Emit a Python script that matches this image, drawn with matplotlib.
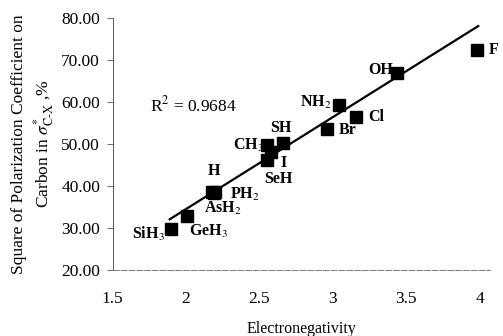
import numpy as np
import matplotlib
matplotlib.use("Agg")
import matplotlib.pyplot as plt

plt.rcParams['font.family'] = ['Liberation Serif', 'DejaVu Serif']
plt.rcParams['mathtext.fontset'] = 'stix'

# Data
labels = ["SiH$_3$", "GeH$_3$", "AsH$_2$", "H", "PH$_2$", "SeH", "I", "CH$_3$",
          "SH", "Br", "NH$_2$", "Cl", "OH", "F"]
electroneg = [1.90, 2.01, 2.18, 2.20, 2.19, 2.55, 2.58, 2.55, 2.66, 2.96, 3.04, 3.16, 3.44, 3.98]
polarization = [29.8, 32.8, 38.5, 38.6, 38.4, 46.2, 48.0, 49.8, 50.3, 53.6, 59.3, 56.4, 66.8, 72.4]
trend_slope = 21.9
trend_intercept = -9.3
trend_x = [1.89, 3.99]
r2_text = "R$^2$ = 0.9684"
yticks = [20, 30, 40, 50, 60, 70, 80]
xticks = [1.5, 2, 2.5, 3, 3.5, 4]

# label offsets in pixels (dx, dy) and alignment
offsets = {
    "SiH$_3$": (-6, -5, 'right'),
    "GeH$_3$": (2, -15, 'left'),
    "AsH$_2$": (-8, -16, 'left'),
    "H": (-1, 21, 'center'),
    "PH$_2$": (16, -2, 'left'),
    "SeH": (-3, -19, 'left'),
    "I": (12, -11, 'center'),
    "CH$_3$": (-3, -1, 'right'),
    "SH": (-2, 15, 'center'),
    "Br": (12, -1, 'left'),
    "NH$_2$": (-7, 2, 'right'),
    "Cl": (12, 0, 'left'),
    "OH": (-4, 3, 'right'),
    "F": (12, 0, 'left'),
}

fig = plt.figure(figsize=(5.03, 3.36), dpi=100)
ax = fig.add_axes([112.5/503, 66/336, 377.5/503, 252/336])

x = np.array(electroneg)
y = np.array(polarization)
xl = np.array(trend_x)
ax.plot(xl, trend_slope * xl + trend_intercept, color='black', lw=1.6, zorder=2)
ax.plot(x, y, 's', color='black', ms=8, zorder=3)

for lab, xi, yi in zip(labels, electroneg, polarization):
    dx, dy, ha = offsets[lab]
    ax.annotate(lab, (xi, yi), xytext=(dx, dy), textcoords='offset pixels',
                ha=ha, va='center', fontsize=11.5, fontweight='bold')

ax.text(1.755, 59.3, r2_text, fontsize=12.5, va='center', ha='left')

ax.set_xlim(1.5, 4.07)
ax.set_ylim(20, 80)
ax.set_xticks(xticks)
ax.set_xticklabels(["1.5", "2", "2.5", "3", "3.5", "4"])
ax.set_yticks(yticks)
ax.set_yticklabels([f"{v:.2f}" for v in yticks])
ax.tick_params(axis='x', length=0, pad=15, labelsize=12.5)
ax.tick_params(axis='y', length=4, width=0.6, color='#555555', pad=5, labelsize=12.5)

for s in ['top', 'right']:
    ax.spines[s].set_visible(False)
ax.spines['left'].set_color('#555555')
ax.spines['left'].set_linewidth(0.7)
ax.spines['bottom'].set_color('#777777')
ax.spines['bottom'].set_linewidth(0.7)
ax.spines['bottom'].set_linestyle((0, (6, 2)))

ax.set_xlabel("Electronegativity", fontsize=11.5, labelpad=10)
ax.set_ylabel("Square of Polarization Coefficient on\nCarbon in $\\sigma^{*}_{\\mathrm{C\\text{-}X}}$ ,%",
              fontsize=12.5, labelpad=4, linespacing=1.2)

fig.savefig("out.png", dpi=100)
